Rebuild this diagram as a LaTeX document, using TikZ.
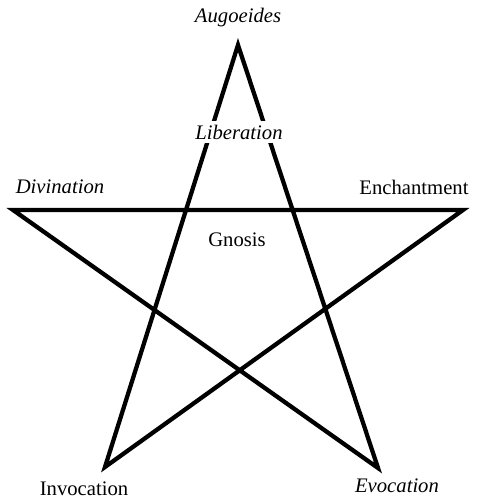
\documentclass[tikz,border=0pt]{standalone}
\usepackage{fontspec}
\setmainfont{Liberation Serif}
\begin{document}
\begin{tikzpicture}[
        x=0.75pt, y=-0.75pt,
        starline/.style={line width=3.2pt, line join=miter, miter limit=20},
        pointlabel/.style={font=\fontsize{15.5}{18}\selectfont\itshape, inner sep=1pt},
        uprightlabel/.style={font=\fontsize{15.5}{18}\selectfont, inner sep=1pt}
    ]
        \useasboundingbox (0,0) rectangle (476,500);

        \coordinate (top) at (238,45);
        \coordinate (left) at (13,210);
        \coordinate (right) at (463,210);
        \coordinate (lowleft) at (105,467);
        \coordinate (lowright) at (378,468);

        \draw[starline]
            (top) -- (lowleft) -- (right) -- (left) -- (lowright) -- cycle;

        \node[pointlabel] (augoeides) at (238,18) {Augoeides};
        \node[pointlabel, fill=white, inner sep=3pt] (liberation) at (239,132) {Liberation};
        \node[pointlabel] (divination) at (60,187) {Divination};
        \node[uprightlabel] (enchantment) at (414,187) {Enchantment};
        \node[uprightlabel] (gnosis) at (237,240) {Gnosis};
        \node[uprightlabel] (invocation) at (84,489) {Invocation};
        \node[pointlabel] (evocation) at (397,486) {Evocation};
    \end{tikzpicture}
\end{document}
